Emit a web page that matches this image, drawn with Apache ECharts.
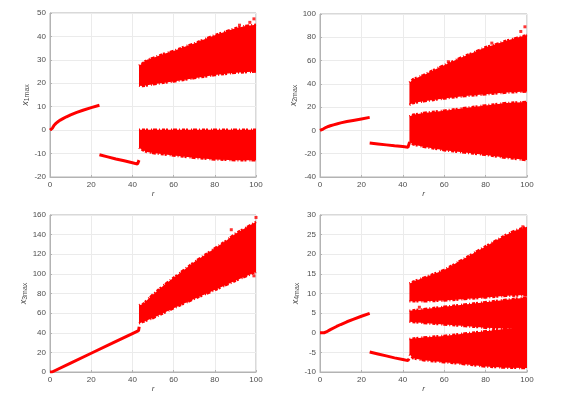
<!DOCTYPE html>
<html>
<head>
<meta charset="utf-8">
<script src="https://cdn.jsdelivr.net/npm/echarts@6/dist/echarts.min.js"></script>
<style>
  html, body { margin: 0; padding: 0; background: #fff; }
  #chart { width: 564px; height: 394px; }
</style>
</head>
<body>
<div id="chart"></div>
<script>
// panel 1: x1max
var p1CurveA = [[0,0],[0.8,0],[1.2,0.9],[1.6,1.6],[2,2.1],[3,3.0],[4,3.7],[5,4.3],[6.5,5.0],[8,5.7],[10,6.5],[13,7.6],[16,8.5],[20,9.6],[24,10.6]]
var p1CurveB = [[24,-10.5],[28,-11.4],[32,-12.3],[36,-13.1],[40,-13.9],[42.5,-14.5],[43,-14.6],[43.2,-12.8]]
var p1UpTop = [[43.2,27.5],[45,28.5],[47,30],[50,30.8],[55,32.5],[60,33.8],[65,35.5],[70,37],[75,38.8],[80,40.5],[85,42],[90,43.5],[95,44.5],[100,45]]
var p1UpBot = [[43.2,19],[45,18.8],[50,19.6],[60,20.8],[70,22.2],[80,23.5],[90,24.5],[100,25]]
var p1LoTop = [[43.2,0.2],[100,0.2]]
var p1LoBot = [[43.2,-7.5],[45,-8.5],[47,-9.3],[50,-9.8],[60,-10.8],[70,-11.8],[80,-12.5],[90,-12.8],[100,-12.9]]
var p1Stray = [[99,47.5],[97,46],[92,44.8]]

// panel 2: x2max
var p2CurveA = [[0,0],[0.8,0.3],[1.5,1.2],[2,1.8],[3,2.7],[4,3.4],[5,4],[6.5,4.8],[8,5.5],[10,6.5],[13,7.6],[16,8.6],[20,9.9],[24,11.2]]
var p2CurveB = [[24,-10.8],[28,-11.6],[32,-12.4],[36,-13.2],[40,-13.9],[42.5,-14.4],[43,-13.5],[43.3,-10]]
var p2UpTop = [[43.2,41],[45,44],[50,47.5],[55,52],[60,56],[65,60],[70,64],[75,67.5],[80,71.5],[85,74],[90,77],[95,79.5],[100,82]]
var p2UpBot = [[43.2,22],[45,23.5],[50,25],[60,27.5],[70,29.5],[80,31],[90,32.5],[100,33.5]]
var p2LoTop = [[43.2,12],[45,13.5],[50,15],[60,17],[70,19.2],[80,21.5],[90,23.5],[100,24.5]]
var p2LoBot = [[43.2,-10],[45,-12],[50,-14],[60,-17],[70,-19],[80,-21],[90,-23.5],[100,-25.5]]
var p2Stray = [[99,89],[97,85],[83,75],[62,59]]

// panel 3: x3max
var p3Line = [[0,0],[1,0],[10,9.1],[20,19.1],[30,29.1],[40,39.2],[43,42.2],[43.3,46]]
var p3Top = [[43.2,68],[45,69],[50,79],[55,88],[60,96],[65,104],[70,112],[75,119],[80,126],[85,133],[90,141],[95,147],[100,153]]
var p3Bot = [[43.2,49.5],[45,51],[50,55],[60,65],[70,74.5],[80,83.5],[90,93],[100,102]]
var p3Stray = [[100,157.5],[99,98],[88,145]]

// panel 4: x4max
var p4CurveA = [[0,0],[2,0],[3,0.2],[5,0.8],[8,1.6],[10,2.1],[13,2.8],[16,3.4],[20,4.2],[24,4.95]]
var p4CurveB = [[24,-4.9],[28,-5.4],[32,-5.9],[36,-6.4],[40,-6.8],[42.5,-7.1],[43,-6.6]]
var p4TopTop = [[43.2,12.5],[45,13],[50,14],[55,15],[60,16],[65,17.5],[70,19],[75,20.5],[80,22],[85,23.5],[90,25],[95,26.2],[100,27]]
var p4TopBot = [[43.2,8],[50,8],[60,8.2],[70,8.6],[80,9.0],[90,9.4],[100,9.6]]
var p4MidTop = [[43.2,5.6],[50,6],[60,6.6],[70,7.2],[80,7.8],[90,8.4],[100,9]]
var p4MidBot = [[43.2,2.8],[50,2.5],[60,2.1],[70,1.7],[80,1.3],[90,1.1],[100,1]]
var p4LowTop = [[43.2,-1.6],[50,-1.2],[60,-0.8],[70,-0.2],[80,0.4],[90,1.0],[100,1.5]]
var p4LowBot = [[43.2,-5.5],[45,-6.5],[50,-7],[60,-7.5],[70,-8],[80,-8.6],[90,-8.9],[100,-9]]
var p4Stray = [[98,27],[48,6.5]]

var yRanges = [[-20, 50, 10], [-40, 100, 20], [0, 160, 20], [-10, 30, 5]]
var yNames = ['1max', '2max', '3max', '4max']

var RED = '#ff0000'
var grids = [
  { left: 50, top: 13, width: 206, height: 164 },
  { left: 320, top: 14, width: 207, height: 163 },
  { left: 50, top: 215, width: 206, height: 163 },
  { left: 320, top: 215, width: 207, height: 162 }
]

function line (gi, data) {
  return {
    type: 'line', xAxisIndex: gi, yAxisIndex: gi, data: data,
    showSymbol: false, lineStyle: { color: RED, width: 3 }, silent: true
  }
}

// chaotic band: filled outline, the upper/lower edges get an uneven dashed
// stroke so they look like the ragged edge of the point cloud
var ragged = { stroke: RED, fill: null, lineWidth: 2.5, lineDash: [1, 2, 3, 1, 2, 3, 1, 1, 4, 2] }
function band (gi, top, bot) {
  return {
    type: 'custom', xAxisIndex: gi, yAxisIndex: gi, silent: true,
    data: top.concat(bot),
    renderItem: function (params, api) {
      if (params.dataIndex !== 0) return null
      var t = top.map(function (p) { return api.coord(p) })
      var b = bot.map(function (p) { return api.coord(p) })
      return {
        type: 'group',
        children: [
          { type: 'polygon', shape: { points: t.concat(b.slice().reverse()) }, style: { fill: RED } },
          { type: 'polyline', shape: { points: t }, style: ragged },
          { type: 'polyline', shape: { points: b }, style: ragged }
        ]
      }
    }
  }
}

function stray (gi, data) {
  return {
    type: 'scatter', xAxisIndex: gi, yAxisIndex: gi, data: data, silent: true,
    symbol: 'rect', symbolSize: 3, itemStyle: { color: RED }
  }
}

var labelStyle = { color: '#4d4d4d', fontSize: 8, fontFamily: 'Liberation Sans' }

var option = {
  animation: false,
  backgroundColor: '#fff',
  grid: grids.map(function (g) {
    return Object.assign({ show: true, borderColor: '#b3b3b3', borderWidth: 1 }, g)
  }),
  xAxis: grids.map(function (g, i) {
    return {
      type: 'value', gridIndex: i, min: 0, max: 100, interval: 20,
      name: 'r', nameLocation: 'middle', nameGap: 13,
      nameTextStyle: { fontStyle: 'italic', fontSize: 8, color: '#4d4d4d', fontFamily: 'Liberation Sans' },
      axisLine: { show: true, onZero: false, lineStyle: { color: '#b3b3b3' } },
      axisTick: { show: true, inside: true, length: 2, lineStyle: { color: '#b3b3b3' } },
      axisLabel: Object.assign({ margin: 4 }, labelStyle),
      splitLine: { show: true, lineStyle: { color: '#ebebeb' } }
    }
  }),
  yAxis: grids.map(function (g, i) {
    return {
      type: 'value', gridIndex: i, min: yRanges[i][0], max: yRanges[i][1], interval: yRanges[i][2],
      name: '{a|x}{b|' + yNames[i] + '}', nameLocation: 'middle', nameGap: 14, nameRotate: 90,
      nameTextStyle: {
        rich: {
          a: { fontStyle: 'italic', fontSize: 9, color: '#4d4d4d', fontFamily: 'Liberation Sans' },
          b: { fontSize: 7, color: '#4d4d4d', fontFamily: 'Liberation Sans', padding: [4, 0, 0, 0] }
        }
      },
      axisLine: { show: true, onZero: false, lineStyle: { color: '#b3b3b3' } },
      axisTick: { show: true, inside: true, length: 2, lineStyle: { color: '#b3b3b3' } },
      axisLabel: Object.assign({ margin: 4 }, labelStyle),
      splitLine: { show: true, lineStyle: { color: '#ebebeb' } }
    }
  }),
  series: [
    line(0, p1CurveA), line(0, p1CurveB), band(0, p1UpTop, p1UpBot), band(0, p1LoTop, p1LoBot), stray(0, p1Stray),
    line(1, p2CurveA), line(1, p2CurveB), band(1, p2UpTop, p2UpBot), band(1, p2LoTop, p2LoBot), stray(1, p2Stray),
    line(2, p3Line), band(2, p3Top, p3Bot), stray(2, p3Stray),
    line(3, p4CurveA), line(3, p4CurveB), band(3, p4TopTop, p4TopBot), band(3, p4MidTop, p4MidBot),
    band(3, p4LowTop, p4LowBot), stray(3, p4Stray)
  ]
}

var chart = echarts.init(document.getElementById('chart'))
chart.setOption(option)
</script>
</body>
</html>
